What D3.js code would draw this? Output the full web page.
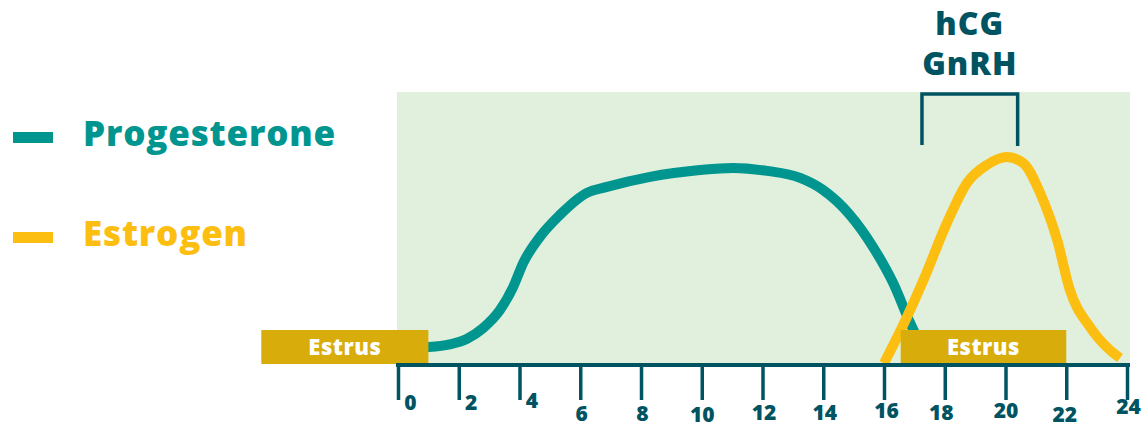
<!DOCTYPE html>
<html>
<head>
<meta charset="utf-8">
<script src="https://cdn.jsdelivr.net/npm/d3@7"></script>
<style>
  body { margin: 0; background: #fff; }
  svg { display: block; font-family: "Open Sans", Lato, sans-serif; font-weight: 800; }
</style>
</head>
<body>
<div id="chart"></div>
<script>
// day ticks along the cycle
const days = [0, 2, 4, 6, 8, 10, 12, 14, 16, 18, 20, 22, 24];

// hormone curves: [day, relative level 0-100]
const progesterone = [
  [0.3, 5.9], [1.0, 6.2], [1.7, 7.2], [2.26, 9.2], [2.8, 13.2], [3.36, 19.9],
  [3.79, 28.3], [4.12, 37.1], [4.67, 46.7], [5.33, 54.8], [6.22, 62.9],
  [6.88, 65.1], [8.3, 68.8], [9.94, 71.3], [11.03, 72.1], [12.15, 71.0],
  [13.24, 68.4], [13.99, 64.0], [14.88, 54.8], [15.64, 43.0], [16.3, 29.8],
  [16.86, 15.1], [17.05, 10.5]
];
const estrogen = [
  [16.0, 0.3], [16.6, 13.6], [17.3, 30.9], [18.07, 51.8], [18.73, 66.5],
  [19.39, 73.2], [20.05, 76.1], [20.58, 73.9], [21.14, 62.9], [21.7, 45.6],
  [22.12, 27.2], [22.78, 13.6], [23.44, 5.1], [23.77, 2.2]
];

// estrus periods [start day, end day]
const estrusPeriods = [[-4.5, 1.0], [16.55, 22.0]];

// hCG / GnRH treatment window
const treatment = [17.25, 20.4];
const treatmentLabels = ["hCG", "GnRH"];

const legendItems = [
  { name: "Progesterone", color: "#00968f" },
  { name: "Estrogen", color: "#fdbe12" }
];

const width = 1143, height = 427;
const dark = "#005462";

// hand-placed tick label nudges from the original drawing
const labelDx = [12, 12, 12, 1, 1, 0, 1, 1, 2, -4, 0, -2, 1];
const labelDy = [10, 10, 8, 21, 21, 22, 20, 20, 18, 20, 18, 22, 14];

const svg = d3.select("#chart").append("svg")
  .attr("width", width)
  .attr("height", height);

const x = d3.scaleLinear().domain([0, 24]).range([398, 1127]);
const y = d3.scaleLinear().domain([0, 100]).range([364, 92]);

// background panel
svg.append("rect")
  .attr("x", x(0) - 1)
  .attr("y", y(100))
  .attr("width", x(24) - x(0) + 4)
  .attr("height", y(0) - y(100))
  .attr("fill", "#e1f0dc");

const line = d3.line()
  .x((d) => x(d[0]))
  .y((d) => y(d[1]))
  .curve(d3.curveMonotoneX);

svg.append("path")
  .datum(progesterone)
  .attr("d", line)
  .attr("fill", "none")
  .attr("stroke", legendItems[0].color)
  .attr("stroke-width", 10);

svg.append("path")
  .datum(estrogen)
  .attr("d", line)
  .attr("fill", "none")
  .attr("stroke", legendItems[1].color)
  .attr("stroke-width", 10);

// estrus bars
const estrus = svg.selectAll(".estrus")
  .data(estrusPeriods)
  .enter()
  .append("g")
  .attr("class", "estrus");

estrus.append("rect")
  .attr("x", (d) => x(d[0]))
  .attr("y", y(0) - 34)
  .attr("width", (d) => x(d[1]) - x(d[0]))
  .attr("height", 34)
  .attr("fill", "#d8ad0b");

estrus.append("text")
  .attr("x", (d) => (x(d[0]) + x(d[1])) / 2)
  .attr("y", y(0) - 9)
  .attr("text-anchor", "middle")
  .attr("fill", "#fff")
  .style("font-size", "22px")
  .style("letter-spacing", "0.5px")
  .text("Estrus");

// axis
const axis = svg.append("g")
  .attr("transform", `translate(0,${y(0) + 1})`)
  .call(d3.axisBottom(x).tickValues(days).tickSize(35).tickSizeOuter(0));

axis.select(".domain")
  .attr("stroke", dark)
  .attr("stroke-width", 4)
  .attr("d", `M${x(0) - 2},0H${x(24) + 3}`);

axis.selectAll(".tick line")
  .attr("stroke", dark)
  .attr("stroke-width", 3.5);

axis.selectAll(".tick text")
  .attr("fill", dark)
  .attr("dy", null)
  .attr("x", (d, i) => labelDx[i])
  .attr("y", (d, i) => 35 + labelDy[i])
  .style("font-size", "21px")
  .style("font-family", "'Open Sans', sans-serif")
  .style("font-weight", 800);

// treatment bracket
svg.append("path")
  .attr("d", `M${x(treatment[0])},${y(0) - 219}V${y(100) + 2}H${x(treatment[1])}V${y(0) - 218}`)
  .attr("fill", "none")
  .attr("stroke", dark)
  .attr("stroke-width", 3.5);

svg.selectAll(".treat")
  .data(treatmentLabels)
  .enter()
  .append("text")
  .attr("class", "treat")
  .attr("x", (x(treatment[0]) + x(treatment[1])) / 2)
  .attr("y", (d, i) => 35 + i * 40)
  .attr("text-anchor", "middle")
  .attr("fill", dark)
  .style("font-size", "32px")
  .style("letter-spacing", "1px")
  .text((d) => d);

// legend
const legend = svg.selectAll(".legend")
  .data(legendItems)
  .enter()
  .append("g")
  .attr("class", "legend")
  .attr("transform", (d, i) => `translate(0,${i * 100})`);

legend.append("rect")
  .attr("x", 13)
  .attr("y", 132)
  .attr("width", 40)
  .attr("height", 11)
  .attr("fill", (d) => d.color);

legend.append("text")
  .attr("x", 83)
  .attr("y", 146)
  .attr("fill", (d) => d.color)
  .style("font-size", "35px")
  .style("letter-spacing", "0.8px")
  .text((d) => d.name);
</script>
</body>
</html>
